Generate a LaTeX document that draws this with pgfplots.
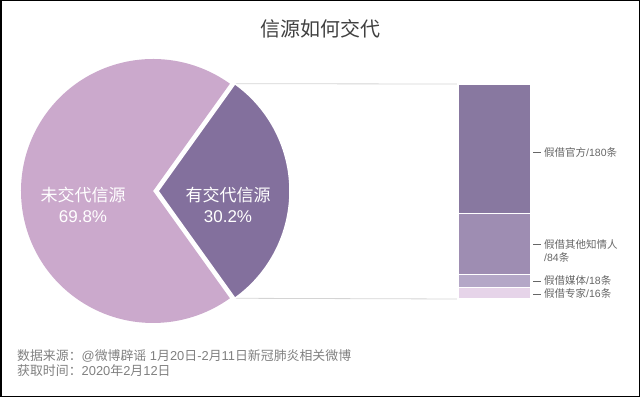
\documentclass[border=0pt]{standalone}
\usepackage{pgfplots}
\pgfplotsset{compat=1.18}
\usepackage{pgfplotstable}
\usepackage{fontspec}
\setmainfont{Noto Sans CJK SC}
\newfontfamily\latfont{Liberation Sans}
\newcommand{\la}[1]{{\latfont #1}}
\definecolor{mainc}{HTML}{CBA9CC}
\definecolor{subc}{HTML}{83709D}
\definecolor{b1}{HTML}{8878A0}
\definecolor{b2}{HTML}{9E8DB2}
\definecolor{b3}{HTML}{B4A7C7}
\definecolor{b4}{HTML}{E6D4E9}
\definecolor{titlec}{HTML}{404040}
\definecolor{labc}{HTML}{666666}
\definecolor{footc}{HTML}{808080}
\definecolor{linec}{HTML}{D4D4D4}
% pie shares (percent)
\pgfplotstableread{
name share
no 69.8
yes 30.2
}\pietable
% breakdown of the 30.2% slice (counts)
\pgfplotstableread{
x v16 v18 v84 v180
0 16 18 84 180
}\bartable
\tikzset{lab/.style={labc, anchor=west, inner sep=0pt, font=\fontsize{10.5bp}{12bp}\selectfont},
  lead/.style={labc, line width=0.6bp},
  pielab/.style={white, font=\fontsize{17bp}{19bp}\selectfont},
  foot/.style={footc, anchor=west, inner sep=0pt, font=\fontsize{12.9bp}{14bp}\selectfont}}
\begin{document}
\begin{tikzpicture}
\pgfmathsetmacro{\half}{30.2*3.6/2}
\pgfmathsetmacro{\rest}{360-\half}
\begin{axis}[
  at={(0,0)}, anchor=south west,
  scale only axis, width=640bp, height=397bp,
  xmin=0, xmax=640, ymin=0, ymax=397,
  hide axis, clip=false,
]
% frame
\draw[black, line width=1.5bp] (axis cs:0.75,0.75) rectangle (axis cs:639.25,396.25);
% connector lines
\draw[linec, line width=0.8bp] (axis cs:158,206) ++(\half:132bp) -- (axis cs:458,313);
\draw[linec, line width=0.8bp] (axis cs:158,206) ++(-\half:132bp) -- (axis cs:458,98);
% main slice (69.8%)
\fill[mainc] (axis cs:153,206) -- ++(\half:132bp) arc[start angle=\half, end angle=\rest, radius=132bp] -- cycle;
% exploded slice (30.2%)
\filldraw[fill=subc, draw=white, line width=1.5bp] (axis cs:158,206) -- ++(-\half:132bp) arc[start angle=-\half, end angle=\half, radius=132bp] -- cycle;
% pie labels
\node[pielab] at (axis cs:83,202) {未交代信源};
\node[pielab] at (axis cs:83,180) {\la{69.8\%}};
\node[pielab] at (axis cs:228,202) {有交代信源};
\node[pielab] at (axis cs:228,180) {\la{30.2\%}};
% title
\node[titlec, font=\fontsize{20bp}{22bp}\selectfont] at (axis cs:320,368) {信源如何交代};
% footer
\node[foot] at (axis cs:17,41) {数据来源：\la{@}微博辟谣\la{ 1}月\la{20}日\la{-2}月\la{11}日新冠肺炎相关微博};
\node[foot] at (axis cs:17,26) {获取时间：\la{2020}年\la{2}月\la{12}日};
\end{axis}
\begin{axis}[
  at={(458bp,98bp)}, anchor=south west,
  scale only axis, width=73bp, height=215bp,
  xmin=-0.5, xmax=0.5, ymin=0, ymax=298,
  hide axis, clip=false,
  ybar stacked, bar width=73bp,
]
\addplot[fill=b4, draw=white, line width=1.2bp] table[x=x, y=v16] {\bartable};
\addplot[fill=b3, draw=white, line width=1.2bp] table[x=x, y=v18] {\bartable};
\addplot[fill=b2, draw=white, line width=1.2bp] table[x=x, y=v84] {\bartable};
\addplot[fill=b1, draw=white, line width=1.2bp] table[x=x, y=v180] {\bartable};
% leader lines and labels
\draw[lead] ([xshift=2bp]axis cs:0.5,203) -- ([xshift=10bp]axis cs:0.5,203);
\node[lab] at ([xshift=13bp]axis cs:0.5,203) {假借官方\la{/180}条};
\draw[lead] ([xshift=2bp]axis cs:0.5,76) -- ([xshift=10bp]axis cs:0.5,76);
\node[lab] at ([xshift=13bp]axis cs:0.5,76) {假借其他知情人};
\node[lab] at ([xshift=13bp,yshift=-13bp]axis cs:0.5,76) {\la{/84}条};
\draw[lead] ([xshift=2bp]axis cs:0.5,25) -- ([xshift=10bp]axis cs:0.5,25);
\node[lab] at ([xshift=13bp]axis cs:0.5,25) {假借媒体\la{/18}条};
\draw[lead] ([xshift=2bp]axis cs:0.5,7) -- ([xshift=10bp]axis cs:0.5,7);
\node[lab] at ([xshift=13bp]axis cs:0.5,7) {假借专家\la{/16}条};
\end{axis}
\end{tikzpicture}
\end{document}
